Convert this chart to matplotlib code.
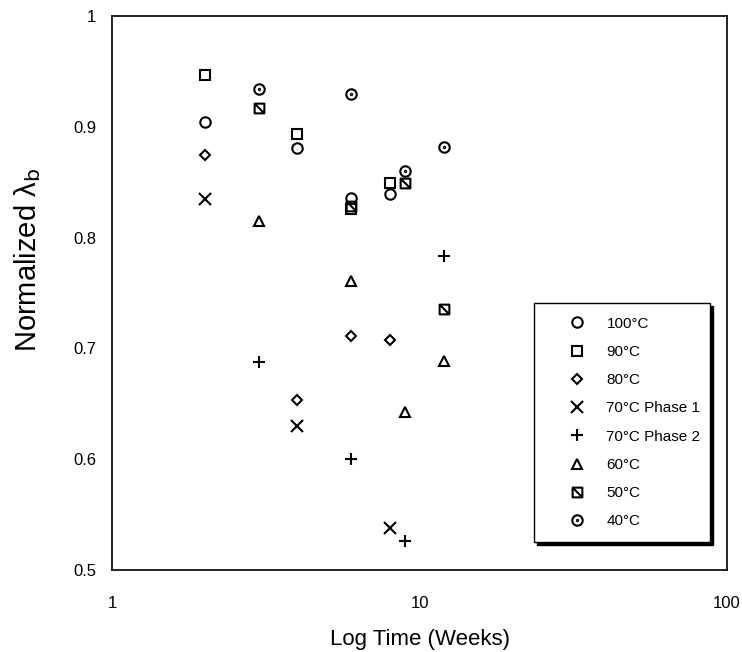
import matplotlib
matplotlib.use("Agg")
import matplotlib.pyplot as plt
import numpy as np
from matplotlib.path import Path
from matplotlib.ticker import FixedLocator, FixedFormatter, NullLocator

plt.rcParams['font.family'] = ['Liberation Sans', 'DejaVu Sans']

# ---- data ----
labels = ["100°C", "90°C", "80°C", "70°C Phase 1", "70°C Phase 2", "60°C", "50°C", "40°C"]
x_100 = [2, 4, 6, 8]
y_100 = [0.904, 0.881, 0.836, 0.839]
x_90 = [2, 4, 6, 8]
y_90 = [0.947, 0.8935, 0.826, 0.8496]
x_80 = [2, 4, 6, 8]
y_80 = [0.8745, 0.653, 0.711, 0.708]
x_70a = [2, 4, 8]
y_70a = [0.835, 0.630, 0.538]
x_70b = [3, 6, 9, 12]
y_70b = [0.688, 0.600, 0.526, 0.783]
x_60 = [3, 6, 9, 12]
y_60 = [0.815, 0.761, 0.643, 0.689]
x_50 = [3, 6, 9, 12]
y_50 = [0.917, 0.8285, 0.849, 0.736]
x_40 = [3, 6, 9, 12]
y_40 = [0.934, 0.930, 0.860, 0.882]

yticks = [0.5, 0.6, 0.7, 0.8, 0.9, 1.0]
ytick_labels = ["0.5", "0.6", "0.7", "0.8", "0.9", "1"]
xticks = [1, 10, 100]
xtick_labels = ["1", "10", "100"]

# ---- custom markers ----
sq = [(-1, -1), (1, -1), (1, 1), (-1, 1), (-1, -1)]
sq_slash = Path(sq + [(-1, 1), (1, -1)],
                [Path.MOVETO] + [Path.LINETO] * 3 + [Path.CLOSEPOLY] + [Path.MOVETO, Path.LINETO])
uc = Path.unit_circle()
dot = Path(uc.vertices * 0.12, uc.codes)
circ_dot = Path.make_compound_path(uc, dot)

fig = plt.figure(figsize=(7.42, 6.52), dpi=100)
ax = fig.add_axes([112 / 742, 82 / 652, 615 / 742, 554 / 652])

common = dict(linestyle='none', markerfacecolor='none', markeredgecolor='black', markeredgewidth=1.5)
ax.plot(x_100, y_100, marker='o', markersize=7.5, label=labels[0], **common)
ax.plot(x_90, y_90, marker='s', markersize=7, label=labels[1], **common)
ax.plot(x_80, y_80, marker='D', markersize=5, label=labels[2], **common)
ax.plot(x_70a, y_70a, marker='x', markersize=8, label=labels[3], **common)
ax.plot(x_70b, y_70b, marker='+', markersize=9, label=labels[4], **common)
ax.plot(x_60, y_60, marker='^', markersize=7, label=labels[5], **common)
ax.plot(x_50, y_50, marker=sq_slash, markersize=7, label=labels[6], **common)
ax.plot(x_40, y_40, marker=circ_dot, markersize=7.5, label=labels[7], **common)

ax.set_xscale('log')
ax.set_xlim(1, 100)
ax.set_ylim(0.5, 1.0)
ax.xaxis.set_major_locator(FixedLocator(xticks))
ax.xaxis.set_major_formatter(FixedFormatter(xtick_labels))
ax.xaxis.set_minor_locator(NullLocator())
ax.yaxis.set_major_locator(FixedLocator(yticks))
ax.yaxis.set_major_formatter(FixedFormatter(ytick_labels))
ax.tick_params(axis='both', length=0, labelsize=12)
ax.tick_params(axis='x', pad=19)
ax.tick_params(axis='y', pad=11.5)
for s in ax.spines.values():
    s.set_linewidth(1.3)
    s.set_color('#111111')

ax.set_xlabel("Log Time (Weeks)", fontsize=16)
ax.set_ylabel("Normalized λ$_\\mathrm{b}$", fontsize=21)
ax.xaxis.set_label_coords(0.5, -0.107)
ax.yaxis.set_label_coords(-0.112, 0.56)

leg = ax.legend(loc='lower left', bbox_to_anchor=(0.686, 0.0505, 0.286, 0.43), mode='expand',
                borderaxespad=0,
                fontsize=11, frameon=True, fancybox=False, edgecolor='black',
                borderpad=0.9, labelspacing=0.93, handlelength=3.8, handletextpad=0.05,
                numpoints=1, shadow={'color': 'black', 'alpha': 1.0})
leg.get_frame().set_linewidth(1.0)

fig.savefig("out.png", dpi=100)
